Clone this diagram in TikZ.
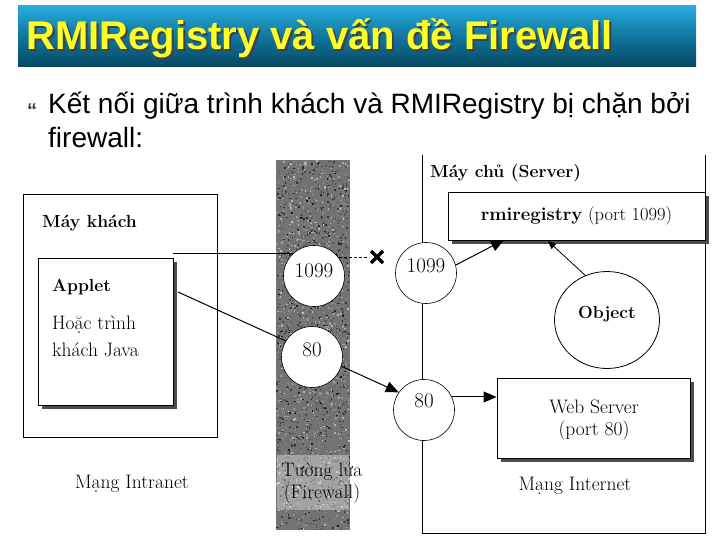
\documentclass[tikz,border=0pt]{standalone}
\usepackage{fontspec}
\newfontfamily\arialf{Liberation Sans}
\usetikzlibrary{arrows.meta,shapes.geometric}
\pgfdeclarelayer{bg}
\pgfsetlayers{bg,main}
\definecolor{titleyellow}{RGB}{255,255,40}
\definecolor{bartop}{RGB}{40,172,220}
\definecolor{barmid}{RGB}{16,118,158}
\definecolor{barbot}{RGB}{8,72,98}
\begin{document}
\begin{tikzpicture}[x=1pt,y=-1pt,
  box/.style={draw, line width=0.9pt, inner sep=0},
  port/.style={draw, circle, line width=0.6pt, fill=white, minimum size=#1, inner sep=0},
  port/.default=60pt,
  lbl/.style={font=\fontsize{19.5}{21}\selectfont, inner sep=0},
  nlbl/.style={font=\fontsize{21}{23}\selectfont, inner sep=0},
  blbl/.style={font=\bfseries\fontsize{17.5}{19}\selectfont, inner sep=0},
  arr/.style={line width=1pt, -{Triangle[length=13pt,width=11pt]}},
  sarr/.style={line width=0.8pt, -{Triangle[length=8pt,width=7pt]}},
  ln/.style={line width=0.8pt},
  shadowc/.style={fill=black!70}]
\useasboundingbox (0,0) rectangle (720,540);
\begin{pgfonlayer}{bg}
\fill[white] (0,0) rectangle (720,540);
\end{pgfonlayer}
% title bar
\shade[top color=bartop, bottom color=barbot, middle color=barmid] (18,6) rectangle (696,67);
\node[anchor=base west, inner sep=0, text=black!75, font=\arialf\bfseries\fontsize{40}{42}\selectfont] at (28,52) {RMIRegistry và vấn đề Firewall};
\node[anchor=base west, inner sep=0, text=titleyellow, font=\arialf\bfseries\fontsize{40}{42}\selectfont] (title) at (26,50) {RMIRegistry và vấn đề Firewall};
% bullet text
\node[anchor=base west, inner sep=0, text=black!80, font=\arialf\bfseries\fontsize{20}{22}\selectfont] (bul) at (27,118) {“};
\node[anchor=base west, inner sep=0, font=\arialf\fontsize{28}{30}\selectfont] (l1) at (48,114) {Kết nối giữa trình khách và RMIRegistry bị chặn bởi};
\node[anchor=base west, inner sep=0, font=\arialf\fontsize{28}{30}\selectfont] (l2) at (48,148) {firewall:};

% firewall column with texture
\begin{pgfonlayer}{bg}
\fill[black!55] (276,160) rectangle (350,530);
\pgfmathsetseed{11}
\foreach \i in {1,...,2600}{
  \pgfmathsetmacro\xx{276+72.5*rnd}
  \pgfmathsetmacro\yy{160+368.5*rnd}
  \pgfmathtruncatemacro\gg{25+65*rnd}
  \fill[black!\gg] (\xx,\yy) rectangle ++(1.5,1.5);
}
\fill[white, opacity=0.35] (277,455) rectangle (349,510);
\end{pgfonlayer}

% client side
\node[box, minimum width=194pt, minimum height=243pt] (client) at (120,315.5) {};
\fill[shadowc] (42,262) rectangle (177,409);
\node[box, fill=white, minimum width=135pt, minimum height=147pt] (applet) at (105.5,331.5) {};
\node[blbl, anchor=west] (mk) at (42,223) {Máy khách};
\node[blbl, anchor=west] (ap) at (52,287) {Applet};
\node[lbl, anchor=west] (h1) at (52,325) {Hoặc trình};
\node[lbl, anchor=west] (h2) at (52,350) {khách Java};
\node[lbl] (intra) at (132,484) {Mạng Intranet};

% firewall ports
\node[port=61pt] (fw1099) at (314,276) {};
\node[nlbl, yshift=5pt] at (fw1099) {1099};
\node[port=61pt] (fw80) at (312,357) {};
\node[nlbl, yshift=7pt] at (fw80) {80};
\node[lbl] (tl) at (322,472) {Tường lửa};
\node[lbl] (fwl) at (322,494) {(Firewall)};

% server side
\begin{pgfonlayer}{bg}
\draw[ln] (422,155) -- (422,533) -- (705,533) -- (705,155);
\end{pgfonlayer}
\node[blbl, anchor=west] (mc) at (430,173) {Máy chủ (Server)};
\fill[shadowc] (452,196) rectangle (709,244);
\node[box, fill=white, minimum width=257pt, minimum height=48pt] (rmireg) at (576.5,216) {};
\node[font=\fontsize{18.5}{20}\selectfont, inner sep=0] at (rmireg) {\textbf{rmiregistry} (port 1099)};
\node[draw, ellipse, line width=0.8pt, fill=white, minimum width=105pt, minimum height=97pt, inner sep=0] (object) at (607,320) {};
\node[blbl, yshift=6pt] at (object) {Object};
\fill[shadowc] (501,382) rectangle (694,462);
\node[box, fill=white, minimum width=193pt, minimum height=80pt] (web) at (593.5,418) {};
\node[lbl] at (594,407) {Web Server};
\node[lbl] at (594,431) {(port 80)};
\node[lbl] (inet) at (575,486) {Mạng Internet};
\node[port=61pt] (sv1099) at (426,273) {};
\node[nlbl, yshift=7pt] at (sv1099) {1099};
\node[port=61pt] (sv80) at (424,410) {};
\node[nlbl, yshift=9pt] at (sv80) {80};

% connectors
\coordinate (a1) at (173,253);
\coordinate (a2) at (178,292);
\coordinate (xm) at (377,257);
\coordinate (t1) at (504,240);
\coordinate (t2) at (548,241);
\begin{pgfonlayer}{bg}
\draw[ln] (a1) -- (a1 -| fw1099);
\draw[ln, dash pattern=on 3pt off 2pt, shorten >=8pt] (fw1099 |- xm) -- (xm);
\draw[arr] (a2) -- (sv80.145);
\end{pgfonlayer}
\draw[line width=3.2pt] ([shift={(-6,-6)}]xm) -- ([shift={(6,6)}]xm) ([shift={(-6,6)}]xm) -- ([shift={(6,-6)}]xm);
\draw[arr] (sv1099.15) -- (t1);
\draw[sarr] (object.116) -- (t2);
\draw[arr] (sv80.25) -- (web.west |- sv80.25);
\end{tikzpicture}
\end{document}
